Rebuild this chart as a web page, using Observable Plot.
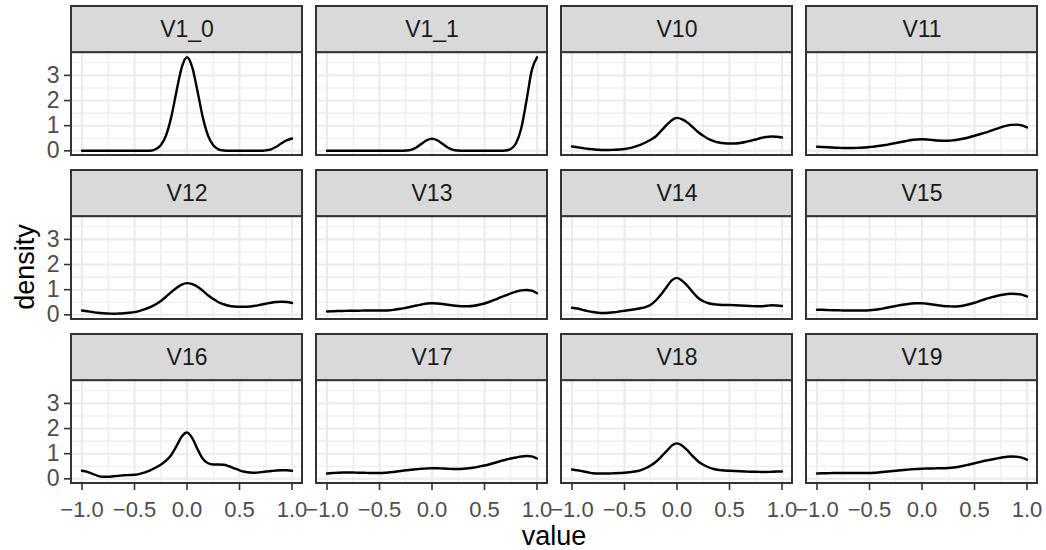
<!DOCTYPE html>
<html>
<head>
<meta charset="utf-8">
<script src="https://cdn.jsdelivr.net/npm/d3@7"></script>
<script src="https://cdn.jsdelivr.net/npm/@observablehq/plot@0.6"></script>
<style>
  html, body { margin: 0; padding: 0; background: #fff; }
  #wrap { position: relative; width: 1046px; height: 550px; font-family: "Liberation Sans", Arial, sans-serif; }
  .title { position: absolute; color: #000; font-size: 27px; white-space: nowrap; line-height: 1; }
  #ytitle { left: 25px; top: 267px; transform: translate(-50%, -50%) rotate(-90deg); }
  #xtitle { left: 554px; top: 536px; transform: translate(-50%, -50%); }
</style>
</head>
<body>
<div id="wrap">
  <div id="chart"></div>
  <div class="title" id="ytitle">density</div>
  <div class="title" id="xtitle">value</div>
</div>
<script>
// panel (facet) names in facet_wrap order
const panels = ["V1_0", "V1_1", "V10", "V11", "V12", "V13", "V14", "V15", "V16", "V17", "V18", "V19"];

// x grid of the density estimates
const xs = [-1.0, -0.95, -0.9, -0.85, -0.8, -0.75, -0.7, -0.65, -0.6, -0.55, -0.5, -0.45, -0.4, -0.35, -0.3, -0.25, -0.2, -0.15, -0.1, -0.05,
  0.0, 0.05, 0.1, 0.15, 0.2, 0.25, 0.3, 0.35, 0.4, 0.45, 0.5, 0.55, 0.6, 0.65, 0.7, 0.75, 0.8, 0.85, 0.9, 0.95, 1.0];

// density values
const v1_0 = [0, 0, 0, 0, 0, 0, 0, 0, 0, 0, 0, 0, 0, 0, 0.06, 0.22, 0.61, 1.34, 2.37, 3.32,
  3.72, 3.32, 2.37, 1.34, 0.61, 0.22, 0.06, 0.01, 0, 0, 0, 0, 0, 0, 0, 0.02, 0.06, 0.16, 0.30, 0.42, 0.49];
const v1_1 = [0, 0, 0, 0, 0, 0, 0, 0, 0, 0, 0, 0, 0, 0, 0, 0.01, 0.04, 0.13, 0.28, 0.42,
  0.48, 0.42, 0.28, 0.13, 0.04, 0.01, 0, 0, 0, 0, 0, 0, 0, 0, 0.01, 0.07, 0.30, 0.90, 2.00, 3.20, 3.72];
const v10 = [0.17, 0.14, 0.11, 0.08, 0.06, 0.04, 0.03, 0.03, 0.04, 0.05, 0.07, 0.11, 0.17, 0.24, 0.33, 0.44, 0.58, 0.80, 1.02, 1.22,
  1.31, 1.25, 1.12, 0.94, 0.75, 0.60, 0.47, 0.39, 0.33, 0.30, 0.29, 0.29, 0.31, 0.35, 0.40, 0.45, 0.51, 0.55, 0.57, 0.56, 0.53];
const v11 = [0.16, 0.15, 0.14, 0.13, 0.12, 0.11, 0.11, 0.11, 0.12, 0.13, 0.15, 0.17, 0.20, 0.23, 0.27, 0.31, 0.35, 0.39, 0.43, 0.45,
  0.46, 0.45, 0.43, 0.41, 0.40, 0.40, 0.42, 0.45, 0.49, 0.54, 0.60, 0.66, 0.72, 0.79, 0.86, 0.93, 0.99, 1.03, 1.04, 1.01, 0.93];
const v12 = [0.17, 0.14, 0.11, 0.08, 0.06, 0.05, 0.04, 0.05, 0.06, 0.08, 0.11, 0.16, 0.23, 0.31, 0.41, 0.55, 0.72, 0.90, 1.07, 1.20,
  1.26, 1.22, 1.12, 0.96, 0.78, 0.63, 0.50, 0.42, 0.36, 0.33, 0.32, 0.32, 0.33, 0.36, 0.40, 0.44, 0.48, 0.51, 0.52, 0.51, 0.47];
const v13 = [0.13, 0.14, 0.15, 0.15, 0.16, 0.16, 0.16, 0.17, 0.17, 0.17, 0.17, 0.17, 0.18, 0.21, 0.24, 0.28, 0.32, 0.37, 0.41, 0.45,
  0.46, 0.45, 0.43, 0.40, 0.37, 0.35, 0.34, 0.34, 0.36, 0.40, 0.45, 0.52, 0.60, 0.69, 0.77, 0.85, 0.92, 0.97, 0.99, 0.96, 0.86];
const v14 = [0.28, 0.25, 0.20, 0.15, 0.11, 0.08, 0.07, 0.08, 0.10, 0.13, 0.16, 0.19, 0.22, 0.26, 0.31, 0.40, 0.58, 0.82, 1.10, 1.37,
  1.47, 1.35, 1.15, 0.90, 0.68, 0.54, 0.46, 0.42, 0.40, 0.39, 0.39, 0.38, 0.37, 0.36, 0.35, 0.34, 0.34, 0.36, 0.38, 0.37, 0.35];
const v15 = [0.20, 0.20, 0.19, 0.18, 0.18, 0.17, 0.17, 0.17, 0.17, 0.17, 0.18, 0.20, 0.23, 0.27, 0.31, 0.35, 0.39, 0.42, 0.45, 0.46,
  0.46, 0.44, 0.41, 0.38, 0.35, 0.34, 0.33, 0.34, 0.37, 0.42, 0.48, 0.55, 0.62, 0.68, 0.74, 0.79, 0.82, 0.84, 0.83, 0.80, 0.73];
const v16 = [0.32, 0.28, 0.20, 0.12, 0.08, 0.08, 0.10, 0.12, 0.14, 0.15, 0.16, 0.20, 0.26, 0.34, 0.44, 0.56, 0.72, 0.95, 1.30, 1.68,
  1.84, 1.62, 1.18, 0.80, 0.62, 0.57, 0.57, 0.56, 0.50, 0.42, 0.34, 0.28, 0.25, 0.24, 0.26, 0.29, 0.31, 0.33, 0.34, 0.34, 0.32];
const v17 = [0.21, 0.23, 0.24, 0.25, 0.25, 0.25, 0.24, 0.24, 0.23, 0.23, 0.23, 0.24, 0.26, 0.28, 0.31, 0.34, 0.36, 0.38, 0.40, 0.41,
  0.42, 0.42, 0.41, 0.40, 0.39, 0.39, 0.40, 0.42, 0.45, 0.49, 0.53, 0.58, 0.64, 0.70, 0.76, 0.81, 0.85, 0.89, 0.91, 0.89, 0.81];
const v18 = [0.37, 0.34, 0.30, 0.26, 0.22, 0.21, 0.21, 0.21, 0.22, 0.23, 0.24, 0.26, 0.29, 0.34, 0.42, 0.53, 0.68, 0.88, 1.10, 1.32,
  1.41, 1.32, 1.13, 0.90, 0.70, 0.56, 0.46, 0.39, 0.35, 0.33, 0.32, 0.31, 0.30, 0.29, 0.28, 0.28, 0.27, 0.27, 0.28, 0.29, 0.29];
const v19 = [0.21, 0.22, 0.22, 0.23, 0.23, 0.23, 0.23, 0.23, 0.23, 0.23, 0.23, 0.24, 0.26, 0.28, 0.30, 0.32, 0.34, 0.36, 0.38, 0.39,
  0.40, 0.41, 0.41, 0.42, 0.42, 0.43, 0.45, 0.48, 0.52, 0.57, 0.62, 0.67, 0.72, 0.76, 0.80, 0.84, 0.87, 0.89, 0.88, 0.84, 0.76];

// axis ticks
const xTicks = [-1.0, -0.5, 0.0, 0.5, 1.0];
const xMinor = [-0.75, -0.25, 0.25, 0.75];
const yTicks = [0, 1, 2, 3];
const yMinor = [0.5, 1.5, 2.5, 3.5];

const series = [v1_0, v1_1, v10, v11, v12, v13, v14, v15, v16, v17, v18, v19];

// long table
const rows = [];
panels.forEach((name, i) => {
  series[i].forEach((d, j) => rows.push({panel: name, col: i % 4, row: Math.floor(i / 4), value: xs[j], density: d}));
});
const panelInfo = panels.map((name, i) => ({panel: name, col: i % 4, row: Math.floor(i / 4)}));

// ggplot-like expanded ranges
const xLo = -1.1, xHi = 1.1;
const yLo = -0.186, yHi = 3.906;
const stripTop = 5.74;

const fmt = d => (d < 0 ? "\u2212" + Math.abs(d).toFixed(1) : d.toFixed(1));

const chart = Plot.plot({
  width: 1046,
  height: 550,
  marginLeft: 71,
  marginRight: 9,
  marginTop: 6,
  marginBottom: 67,
  style: {fontFamily: "Liberation Sans, Arial, sans-serif", fontSize: "23px", background: "#fff"},
  x: {domain: [xLo, xHi]},
  y: {domain: [yLo, stripTop]},
  fx: {domain: [0, 1, 2, 3], paddingInner: 0.0571, paddingOuter: 0, axis: null, round: false},
  fy: {domain: [0, 1, 2], paddingInner: 0.0915, paddingOuter: 0, axis: null, round: false},
  marks: [
    // minor grid
    Plot.ruleX(xMinor, {y1: yLo, y2: yHi, stroke: "#EBEBEB", strokeWidth: 1.1}),
    Plot.ruleY(yMinor, {x1: xLo, x2: xHi, stroke: "#EBEBEB", strokeWidth: 1.1}),
    // major grid
    Plot.ruleX(xTicks, {y1: yLo, y2: yHi, stroke: "#EBEBEB", strokeWidth: 2.1}),
    Plot.ruleY(yTicks, {x1: xLo, x2: xHi, stroke: "#EBEBEB", strokeWidth: 2.1}),
    // density lines
    Plot.line(rows, {x: "value", y: "density", fx: "col", fy: "row", z: "panel", stroke: "#000", strokeWidth: 2.4, curve: "monotone-x"}),
    // panel border
    Plot.rect(panelInfo, {x1: xLo, x2: xHi, y1: yLo, y2: yHi, fx: "col", fy: "row", fill: "none", stroke: "#333333", strokeWidth: 2}),
    // strips
    Plot.rect(panelInfo, {x1: xLo, x2: xHi, y1: yHi, y2: stripTop, fx: "col", fy: "row", fill: "#D9D9D9", stroke: "#333333", strokeWidth: 2}),
    Plot.text(panelInfo, {x: 0, y: (yHi + stripTop) / 2, fx: "col", fy: "row", text: "panel", fill: "#1A1A1A", fontSize: 23}),
    // axes
    Plot.axisX(xTicks, {anchor: "bottom", tickSize: 7, tickPadding: 11, strokeWidth: 1.6, stroke: "#333333", fill: "#4D4D4D", tickFormat: fmt, label: null, fontSize: 22}),
    Plot.axisY(yTicks, {anchor: "left", tickSize: 7, tickPadding: 5, strokeWidth: 1.6, stroke: "#333333", fill: "#4D4D4D", tickFormat: d => String(d), label: null, fontSize: 23})
  ]
});
document.getElementById("chart").appendChild(chart);
</script>
</body>
</html>
